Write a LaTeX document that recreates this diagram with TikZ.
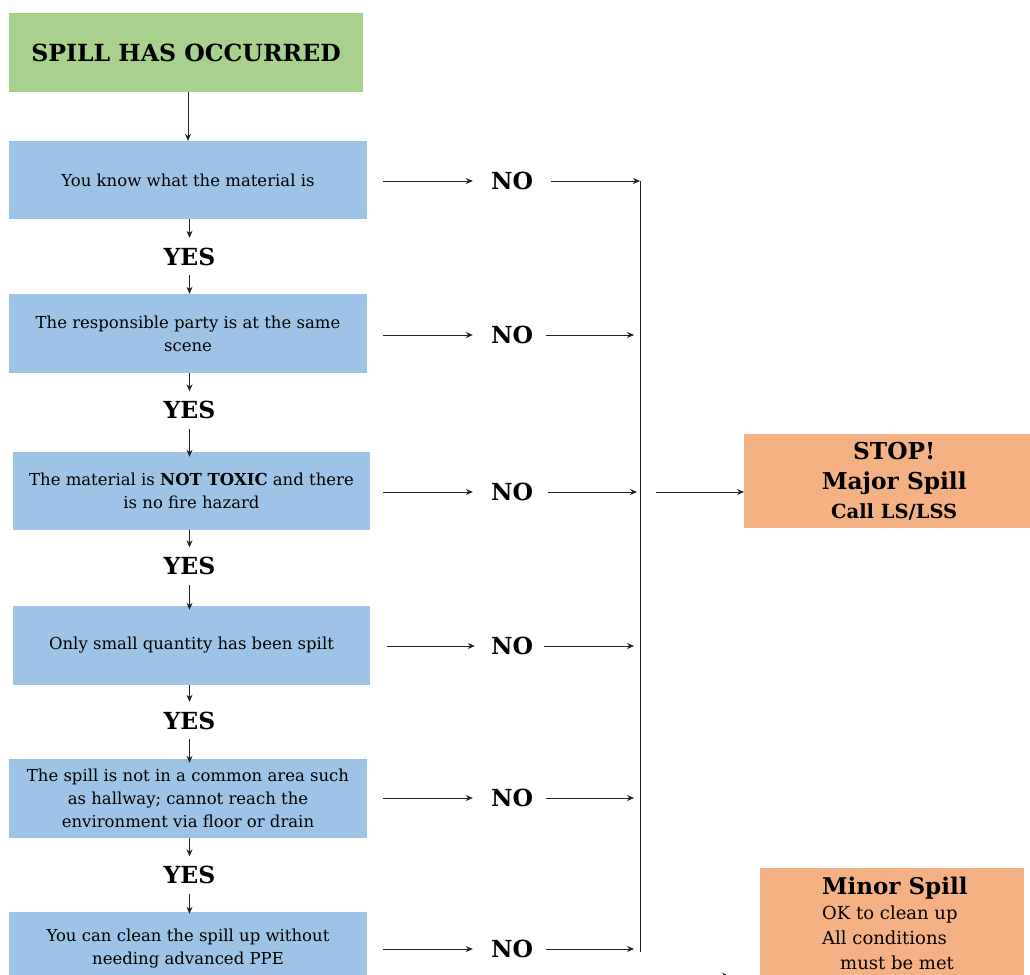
\documentclass[tikz,border=0pt]{standalone}
\usepackage{fontspec}
\setmainfont{DejaVu Serif}
\usetikzlibrary{arrows.meta}
\definecolor{gbox}{HTML}{A9D18E}
\definecolor{bbox}{HTML}{9DC3E6}
\definecolor{obox}{HTML}{F4B183}
\definecolor{ln}{HTML}{222222}
\begin{document}
\begin{tikzpicture}[x=1pt,y=-1pt,
  box/.style={rectangle,inner sep=0pt,minimum width=358pt,minimum height=78pt,align=center,font=\fontsize{16.5}{23}\selectfont},
  bluebox/.style={box,fill=bbox},
  yesno/.style={inner sep=0pt,font=\bfseries\fontsize{23.5}{27}\selectfont},
  yeslab/.style={yesno,minimum height=37pt},
  nolab/.style={yesno,minimum width=78pt},
  arr/.style={draw=ln,line width=0.9pt,-{Stealth[length=7pt,width=6pt]}},
  ln/.style={draw=ln,line width=0.9pt}
]
\useasboundingbox (0,0) rectangle (1030,974);
\clip (0,0) rectangle (1030,974);

\node[box,fill=gbox,minimum width=354pt,minimum height=79pt,font=\bfseries\fontsize{23.6}{27}\selectfont] (start) at (186,52.5) {SPILL HAS OCCURRED};

\node[bluebox] (b1) at (188,180) {You know what the material is};
\node[bluebox,minimum height=79pt] (b2) at (188,333.5) {The responsible party is at the same\\scene};
\node[bluebox,minimum width=357pt] (b3) at (191.5,491) {The material is \textbf{NOT TOXIC} and there\\is no fire hazard};
\node[bluebox,minimum width=357pt,minimum height=79pt] (b4) at (191.5,645.5) {Only small quantity has been spilt};
\node[bluebox,minimum height=79pt] (b5) at (188,798.5) {The spill is not in a common area such\\as hallway; cannot reach the\\environment via floor or drain};
\node[bluebox,minimum height=74pt] (b6) at (188,949) {You can clean the spill up without\\needing advanced PPE};

\node[yeslab] (y1) at (189.5,256.5) {YES};
\node[yeslab] (y2) at (189.5,410) {YES};
\node[yeslab] (y3) at (189.5,566) {YES};
\node[yeslab] (y4) at (189.5,720.5) {YES};
\node[yeslab] (y5) at (189.5,875) {YES};

\draw[arr] (start.south -| 188,0) -- (b1.north -| 188,0);
\draw[arr] (b1.south -| y1.north) -- (y1.north);
\draw[arr] (y1.south) -- (b2.north -| y1.south);
\draw[arr] (b2.south -| y2.north) -- (y2.north);
\draw[arr] (y2.south) -- ([yshift=-5pt]b3.north -| y2.south);
\draw[arr] (b3.south -| y3.north) -- (y3.north);
\draw[arr] (y3.south) -- ([yshift=-4pt]b4.north -| y3.south);
\draw[arr] (b4.south -| y4.north) -- (y4.north);
\draw[arr] (y4.south) -- ([yshift=-4pt]b5.north -| y4.south);
\draw[arr] (b5.south -| y5.north) -- (y5.north);
\draw[arr] (y5.south) -- ([yshift=-2pt]b6.north -| y5.south);

\node[nolab] (n1) at (512,181) {NO};
\node[nolab] (n2) at (512,335) {NO};
\node[nolab] (n3) at (512,492) {NO};
\node[nolab,minimum width=74pt] (n4) at (512,646) {NO};
\node[nolab] (n5) at (512,798) {NO};
\node[nolab] (n6) at (512,949) {NO};

\coordinate (e1) at (640,181);
\coordinate (e2) at (634,335);
\coordinate (e3) at (637,492);
\coordinate (e4) at (634,646);
\coordinate (e5) at (634,798);
\coordinate (e6) at (634,949);
\coordinate (bustop) at (640,181);
\coordinate (busbot) at (640,952);
\coordinate (busout) at (656,492);

\draw[arr] ([xshift=16pt]b1.east |- n1.west) -- (n1.west);
\draw[arr] ([xshift=16pt]b2.east |- n2.west) -- (n2.west);
\draw[arr] ([xshift=13pt]b3.east |- n3.west) -- (n3.west);
\draw[arr] ([xshift=17pt]b4.east |- n4.west) -- (n4.west);
\draw[arr] ([xshift=16pt]b5.east |- n5.west) -- (n5.west);
\draw[arr] ([xshift=16pt]b6.east |- n6.west) -- (n6.west);

\draw[arr] (n1.east) -- (e1);
\draw[arr] ([xshift=-5pt]n2.east) -- (e2);
\draw[arr] ([xshift=-3pt]n3.east) -- (e3);
\draw[arr] ([xshift=-5pt]n4.east) -- (e4);
\draw[arr] ([xshift=-5pt]n5.east) -- (e5);
\draw[arr] ([xshift=-5pt]n6.east) -- (e6);

\draw[ln] (bustop) -- (busbot);

\node[rectangle,fill=obox,inner sep=0pt,minimum width=300pt,minimum height=94pt,anchor=west,align=center,font=\bfseries\fontsize{23.3}{30}\selectfont] (stop) at (744,481)
  {\raisebox{-2pt}{STOP!}\\\raisebox{-2pt}{Major Spill}\\{\fontsize{19.5}{29}\selectfont\raisebox{-1pt}{Call LS/LSS}}};
\draw[arr] (busout) -- (stop.west |- busout);

\node[rectangle,fill=obox,inner sep=0pt,minimum width=264pt,minimum height=120pt,anchor=north west] (minor) at (760,868) {};
\node[anchor=north west,inner sep=0pt,align=left,font=\fontsize{18}{25}\selectfont] (minortxt) at (822,877)
  {{\bfseries\fontsize{23}{25}\selectfont Minor Spill}\\OK to clean up\\All conditions\\\hspace*{18pt}must be met};

\coordinate (mstart) at (670,976.5);
\coordinate (mend) at (729,976.5);
\draw[draw=ln,line width=0.9pt,-{Stealth[length=7pt,width=8pt]}] (mstart) -- (mend);
\end{tikzpicture}
\end{document}
